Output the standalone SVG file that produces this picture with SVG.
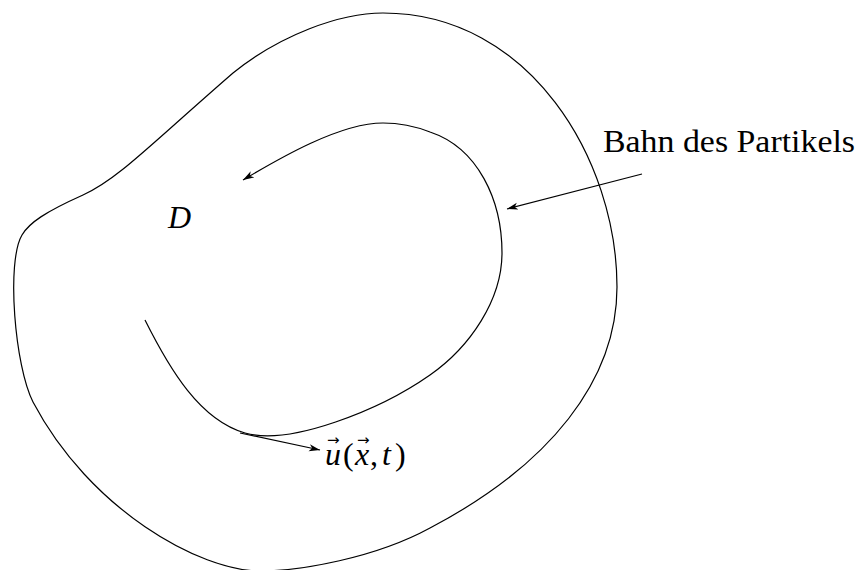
<svg xmlns="http://www.w3.org/2000/svg" width="860" height="570" viewBox="0 0 860 570">
<style>
.c{fill:none;stroke:#000;stroke-width:1.2}
.t{font-family:"Liberation Serif","Times New Roman",serif;font-size:32px;fill:#000}
.i{font-style:italic}
.v{font-family:"DejaVu Sans",sans-serif;font-size:15px;font-style:normal}
</style>
<defs>
<marker id="ah" markerUnits="userSpaceOnUse" markerWidth="12" markerHeight="8" refX="11" refY="4" orient="auto" viewBox="0 0 12 8">
<path d="M0,0.5 L11,4 L0,7.5 L3,4 Z" fill="#000"/>
</marker>
</defs>
<rect width="860" height="570" fill="#fff"/>
<g id="domain">
<path class="c" d="M383,13 C530,13 617,160 617,287 C617,380 550,465 430,528 C375,558 300,571 260,571 C200,571 90,510 33,402 C15,367 6,262 22,235 C29,223 45,212 83,195 C117,180 150,145 233,73 C280,35 340,13 383,13 Z"/>
</g>
<g id="label-D"><text class="t i" x="168" y="228">D</text></g>
<g id="connectors">
<path class="c" marker-end="url(#ah)" d="M145,320 C170,370 200,420 245,433 C290,446 380,410 430,375 C470,347 502,300 502,253 C502,200 478,148 430,132 C412,125 395,123 383,123 C340,123 280,158 243,180"/>
<line class="c" x1="642" y1="174" x2="507" y2="209" marker-end="url(#ah)"/>
<line class="c" x1="240" y1="433" x2="320" y2="450" marker-end="url(#ah)"/>
</g>
<g id="label-bahn"><text class="t" x="603" y="152" textLength="252" lengthAdjust="spacingAndGlyphs">Bahn des Partikels</text></g>
<g id="label-u">
<text class="t"><tspan class="i" x="325" y="465">u</tspan><tspan class="v" x="327" y="445">→</tspan><tspan x="343" y="465">(</tspan><tspan class="i" x="355" y="465">x</tspan><tspan class="v" x="357" y="445">→</tspan><tspan x="370" y="465">,</tspan><tspan class="i" x="382" y="465">t</tspan><tspan x="395" y="465">)</tspan></text>
</g>
</svg>
